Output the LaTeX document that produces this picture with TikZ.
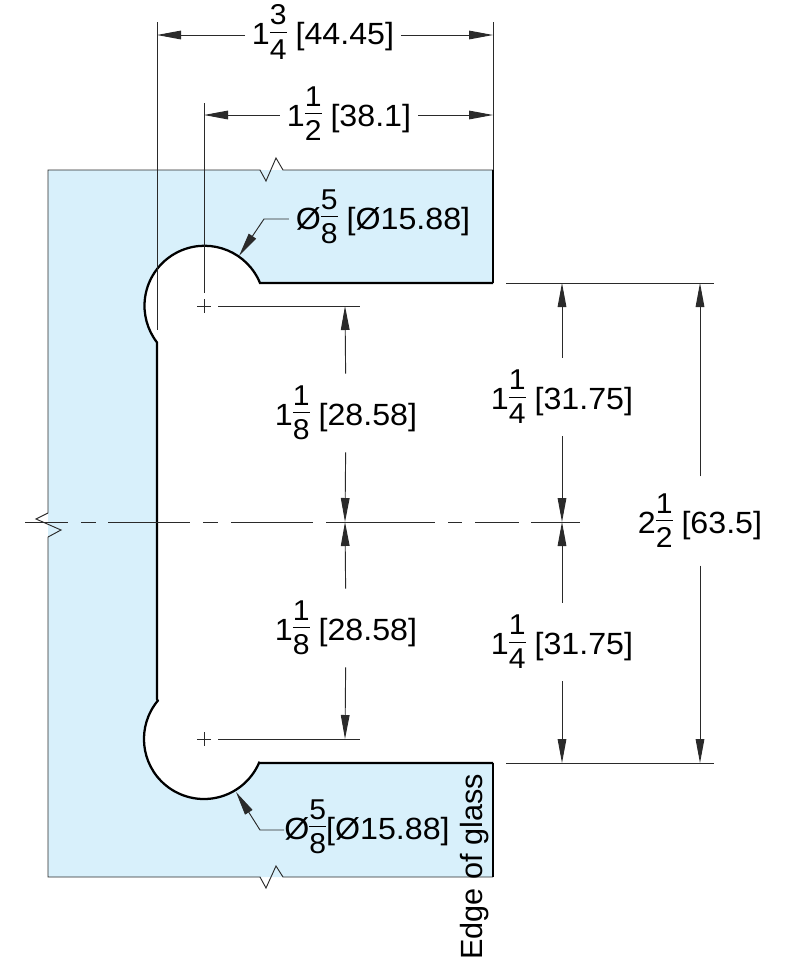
\documentclass[tikz,border=0pt]{standalone}
\usepackage{amsmath}
\usepackage{fontspec}
\setmainfont[FakeStretch=1.05]{Liberation Sans}
\newfontfamily\plainsans{Liberation Sans}
\usetikzlibrary{arrows.meta}
\usetikzlibrary{positioning}
\definecolor{glassblue}{HTML}{D8F0FB}
\definecolor{thinline}{HTML}{2A2A2A}
\newcommand\mixfrac[2]{\raisebox{3pt}{$\vcenter{\fontsize{21.5}{21.5}\selectfont\offinterlineskip
  \halign{\hfil##\hfil\cr #1\cr\noalign{\kern5pt\hrule height 0.6pt\kern5pt}#2\cr}}$}}

\begin{document}
\begin{tikzpicture}[x=0.75pt,y=-0.75pt]
  \tikzset{thin line/.style={draw=thinline, line width=0.7pt}}
  \tikzset{edge line/.style={draw=black, line width=1.7pt}}
  \tikzset{dimline/.style={thin line, -{Triangle[length=18pt,width=6.5pt]}}}
  \tikzset{dimlabel/.style={font=\fontsize{23}{25}\selectfont, inner xsep=5pt, inner ysep=0pt, text=black}}

  \useasboundingbox (0,0) rectangle (787,961);

  % glass
  \fill[glassblue] (48,170) -- (493,170) -- (493,283) -- (260,283)
    arc (-22.3:-217.5:60) -- (157,345) -- (157,699) -- (157.8,700.7)
    arc (219.7:23.2:60) -- (260,763) -- (493,763) -- (493,877) -- (48,877) -- cycle;
  \draw[thin line] (48,513) -- (48,170) -- (260,170) -- (266,181) -- (276,158) -- (283,170) -- (493,170);
  \draw[thin line] (48,537) -- (48,877) -- (260,877) -- (266,888) -- (276,866) -- (283,877) -- (493,877);
  \draw[thin line] (48,513) -- (36,519) -- (61,530) -- (48,537);
  \draw[edge line, line width=1.2pt] (493,170) -- (493,283);
  \draw[edge line, line width=1.2pt] (493,763) -- (493,877);
  \draw[edge line, line join=miter] (493,283) -- (260,283)
    arc (-22.3:-217.5:60) -- (157,345) -- (157,699) -- (157.8,700.7)
    arc (219.7:23.2:60) -- (260,763) -- (493,763);

  % centre line
  \foreach \a/\b in {25/68,81/96,108/190,203/218,231/313,326/435,448/462,475/519,531/580}{
    \draw[thin line] (\a,522) -- (\b,522);
  }

  % extension lines
  \draw[thin line] (157,22) -- (157,330);
  \draw[thin line] (204,103) -- (204,293);
  \draw[thin line] (493,22) -- (493,170);
  \draw[thin line] (218,306) -- (360,306);
  \draw[thin line] (218,739) -- (360,739);
  \draw[thin line] (506,283) -- (714,283);
  \draw[thin line] (506,763) -- (714,763);

  % hole centres
  \draw[thin line] (197,306) -- (211,306);
  \draw[thin line] (204,299) -- (204,313);
  \draw[thin line] (197,739) -- (211,739);
  \draw[thin line] (204,732) -- (204,746);

  \coordinate (w1) at (157,35);
  \coordinate (e1) at (493,35);
  \coordinate (w2) at (204,115);
  \coordinate (e2) at (493,115);
  \coordinate (holetop) at (345,306);
  \coordinate (holebot) at (345,739);
  \coordinate (midleft) at (345,522);
  \coordinate (edgetop) at (562,283);
  \coordinate (edgebot) at (562,763);
  \coordinate (midright) at (562,522);
  \coordinate (overtop) at (700,283);
  \coordinate (overbot) at (700,763);
  \coordinate (tiptop) at (239,256);
  \coordinate (tipbot) at (236,792);
  \coordinate (kneetop) at (264,219);
  \coordinate (kneebot) at (260,830);

  \node[dimlabel] (overall) at (323,32) {1\mixfrac{3}{4} [44.45]};
  \node[dimlabel] (tocentre) at (349,114) {1\mixfrac{1}{2} [38.1]};
  \node[dimlabel, inner ysep=9pt] (upperhole) at (346,413) {1\mixfrac{1}{8} [28.58]};
  \node[dimlabel, inner ysep=9pt] (lowerhole) at (346,628) {1\mixfrac{1}{8} [28.58]};
  \node[dimlabel, inner ysep=9pt] (upperedge) at (562,397) {1\mixfrac{1}{4} [31.75]};
  \node[dimlabel, inner ysep=9pt] (loweredge) at (562,642) {1\mixfrac{1}{4} [31.75]};
  \node[dimlabel, inner ysep=13pt] (opening) at (700,521) {2\mixfrac{1}{2} [63.5]};
  \node[dimlabel, inner xsep=5pt] (boretop) at (383,217) {Ø\mixfrac{5}{8} [Ø15.88]};
  \node[dimlabel, inner xsep=0pt] (borebot) at (367,827) {Ø\mixfrac{5}{8}[Ø15.88]};
  \node[dimlabel, rotate=90, inner sep=0pt, font=\fontsize{23}{25}\selectfont\plainsans] (edgeglass) at (475,867) {Edge of glass};

  \draw[dimline] (overall.west |- w1) -- (w1);
  \draw[dimline] (overall.east |- e1) -- (e1);
  \draw[dimline] (tocentre.west |- w2) -- (w2);
  \draw[dimline] (tocentre.east |- e2) -- (e2);
  \draw[dimline] (upperhole) -- (holetop);
  \draw[dimline] (upperhole) -- (midleft);
  \draw[dimline] (lowerhole) -- (midleft);
  \draw[dimline] (lowerhole) -- (holebot);
  \draw[dimline] (upperedge) -- (edgetop);
  \draw[dimline] (upperedge) -- (midright);
  \draw[dimline] (loweredge) -- (midright);
  \draw[dimline] (loweredge) -- (edgebot);
  \draw[dimline] (opening) -- (overtop);
  \draw[dimline] (opening) -- (overbot);
  \draw[dimline] (boretop.west |- kneetop) -- (kneetop) -- (tiptop);
  \draw[dimline] (borebot.west |- kneebot) -- (kneebot) -- (tipbot);

\end{tikzpicture}
\end{document}
